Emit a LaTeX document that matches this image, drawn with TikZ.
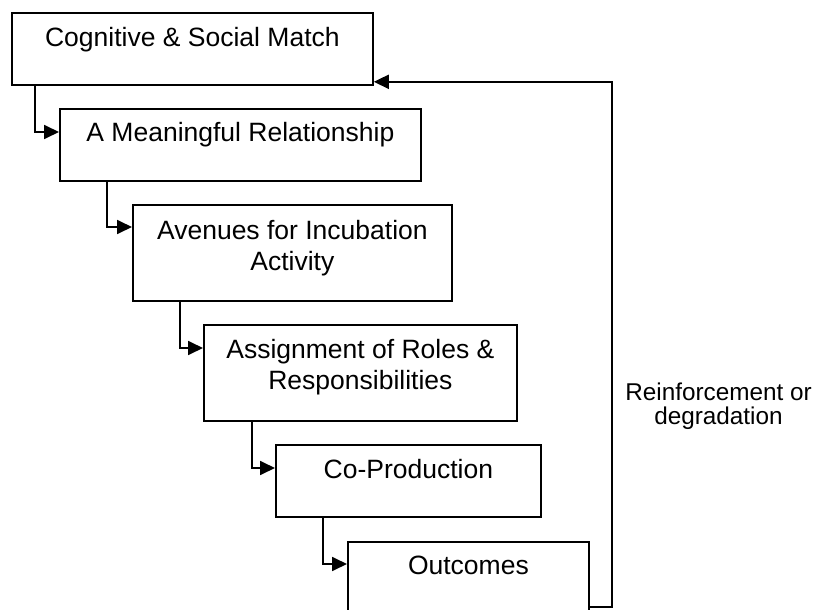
\documentclass[tikz,border=0pt]{standalone}
\usepackage{fontspec}
\setmainfont{Liberation Sans}
\usetikzlibrary{arrows.meta,calc}
\begin{document}
\begin{tikzpicture}[x=1pt,y=-1pt,
  box/.style={draw,line width=1.8pt,rectangle,inner sep=0pt,anchor=north west},
  txt/.style={anchor=base,align=center,inner sep=0pt,font=\fontsize{26.5}{30.5}\selectfont},
  conn/.style={line width=1.8pt,-{Triangle[length=15pt,width=14pt]}},
  lbl/.style={align=center,inner sep=0pt,font=\fontsize{24.3}{24}\selectfont}]
\useasboundingbox (0,0) rectangle (815,610);
\clip (0,0) rectangle (815,610);
\node[box,minimum width=361pt,minimum height=72pt] (b1) at (11,12) {};
\node[box,minimum width=361pt,minimum height=72pt] (b2) at (59,108) {};
\node[box,minimum width=319pt,minimum height=96pt] (b3) at (132,204) {};
\node[box,minimum width=313pt,minimum height=96pt] (b4) at (203,324) {};
\node[box,minimum width=265pt,minimum height=72pt] (b5) at (275,444) {};
\node[box,minimum width=241pt,minimum height=96pt] (b6) at (347,541) {};
\node[txt] (t1) at ($(b1.north)+(0,35)$) {Cognitive \& Social Match};
\node[txt] (t2) at ($(b2.north)+(0,34)$) {A Meaningful Relationship};
\node[txt] (t3) at ($(b3.north)+(0,66)$) {Avenues for Incubation\\Activity};
\node[txt] (t4) at ($(b4.north)+(0,65)$) {Assignment of Roles \&\\Responsibilities};
\node[txt] (t5) at ($(b5.north)+(0,34)$) {Co-Production};
\node[txt] (t6) at ($(b6.north)+(0,33)$) {Outcomes};
\node[lbl,anchor=base] (lab) at (718.5,424) {Reinforcement or\\degradation};
\draw[conn] ($(b1.south west)+(24,0)$) |- ($(b2.north west)+(0,24)$);
\draw[conn] ($(b2.south west)+(48,0)$) |- ($(b3.north west)+(0,23)$);
\draw[conn] ($(b3.south west)+(48,0)$) |- ($(b4.north west)+(0,24)$);
\draw[conn] ($(b4.south west)+(49,0)$) |- ($(b5.north west)+(0,24)$);
\draw[conn] ($(b5.south west)+(48,0)$) |- ($(b6.north west)+(0,23)$);
\coordinate (fb) at (612,607);
\draw[conn] ($(b6.north east)+(0,66)$) -- (fb) |- ($(b1.south east)+(0,-4)$);
\end{tikzpicture}
\end{document}
